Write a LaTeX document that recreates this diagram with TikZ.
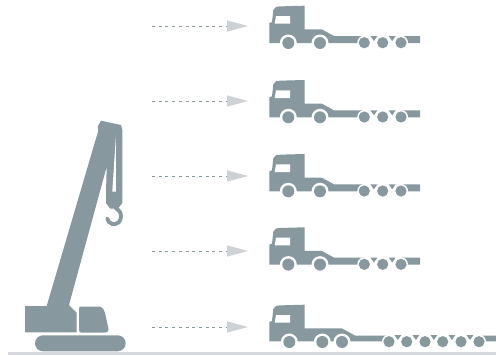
\documentclass[tikz,border=0pt]{standalone}
\usetikzlibrary{arrows.meta}
\definecolor{steel}{HTML}{87989F}
\definecolor{pale}{HTML}{CDD2D6}
\definecolor{floorgrey}{HTML}{D6D9DD}
\tikzset{
  x=1pt,y=-1pt,
  body/.style={fill=steel,draw=none},
  halo/.style={fill=white,draw=none},
  flow/.style={draw=steel,line width=1pt,dash pattern=on 3pt off 3.7pt,
    -{Triangle[length=21pt,width=11pt,color=pale,fill=pale]}},
  ground/.style={draw=floorgrey,line width=3pt},
  hookline/.style={draw=steel,line width=3.8pt,line cap=round},
}
\newcommand{\cabshape}{(269.3,43) -- (269.3,23) -- (272,22) -- (273.3,10) -- (276,7) .. controls (278,6.4) .. (304.7,5.7) -- (304.7,29.3)}
\newcommand{\cabwindow}{\fill[halo] (276,16) -- (290,16) -- (290,23.7) -- (274.7,23.7) -- cycle;}
\newcommand{\bigwheel}[1]{\fill[halo] (#1,43) circle (8.5); \fill[body] (#1,43) circle (6);}
\newcommand{\smallwheel}[1]{\fill[halo] (#1,42.7) circle (7); \fill[body] (#1,42.7) circle (5.6);}
\newcommand{\chassiswedge}[1]{\fill[body] (#1-3.5,36) -- (#1+3.5,36) -- (#1,41) -- cycle;}
\tikzset{
  truck/.pic={
    \fill[body] \cabshape -- (321.7,29.3) -- (334,36) -- (420,36) -- (420,43) -- cycle;
    \cabwindow
    \foreach \wx in {288.3,320}{\bigwheel{\wx}}
    \fill[halo] (364.3,35) rectangle (401,44);
    \foreach \wx in {373.9,392.2}{\chassiswedge{\wx}}
    \foreach \wx in {364.3,382.7,401}{\smallwheel{\wx}}
  },
}
\begin{document}
\begin{tikzpicture}
\useasboundingbox (0,0) rectangle (496,356);
\fill[white] (0,0) rectangle (496,356);
% ground
\coordinate (gl) at (7.5,353.8);
\coordinate (gr) at (496,353.8);
\draw[ground] (gl) -- (gr);
% arrows
\foreach \n/\yy in {1/26,2/101,3/176,4/251,5/327}{
  \coordinate (s\n) at (152,\yy);
  \coordinate (e\n) at (248,\yy);
  \draw[flow] (s\n) -- (e\n);
}
% trucks
\foreach \off in {0,74.3,148.3,221.6}{
  \pic at (0,\off) {truck};
}
% long truck
\begin{scope}[yshift=-299pt]
  \fill[body] \cabshape -- (341.7,29.3) -- (355,36.5) -- (496,36.5) -- (496,42.3) -- (269.3,42.3) -- cycle;
  \cabwindow
  \foreach \wx in {289.3,322.3,342}{\bigwheel{\wx}}
  \fill[halo] (389,35) rectangle (479,44);
  \foreach \wx in {397.9,415.9,433.9,451.9,470}{\chassiswedge{\wx}}
  \foreach \wx in {389,406.7,425,442.7,461,479}{\smallwheel{\wx}}
\end{scope}
% crane
\fill[body] (25,306) -- (46.7,306) -- (98.3,130.7) -- (97.7,126.7) -- (101,120.7) -- (121,125) -- (122.3,130) -- (122.3,193) -- (122.3,203) -- (118,208.5) -- (110,208.5) -- (106,203) -- (106,193) -- (106.7,166.7) -- (69,305) -- (70,306) -- (76.7,312.7) -- (76.7,332.3) -- (25,332.3) -- cycle;
\fill[halo] (116,135) -- (112.3,191.5) -- (115.8,191.5) -- cycle;
\draw[hookline] (115.5,208) -- (118.3,210) .. controls (122,213) and (122,219) .. (118.5,222.5) .. controls (115,225.5) and (108.5,224.5) .. (107.2,218.5);
\fill[body] (79,308.5) .. controls (79,307) and (80,306.5) .. (81,306.5) -- (100,306.5) .. controls (103,307) and (104,310) .. (105,313) -- (108.5,329) .. controls (108.5,331.5) and (107.5,332.5) .. (105,332.5) -- (81,332.5) .. controls (80,332.5) and (79,331.5) .. (79,330) -- cycle;
\fill[body,rounded corners=8pt] (35,335.3) rectangle (125.7,351.3);
\end{tikzpicture}
\end{document}
